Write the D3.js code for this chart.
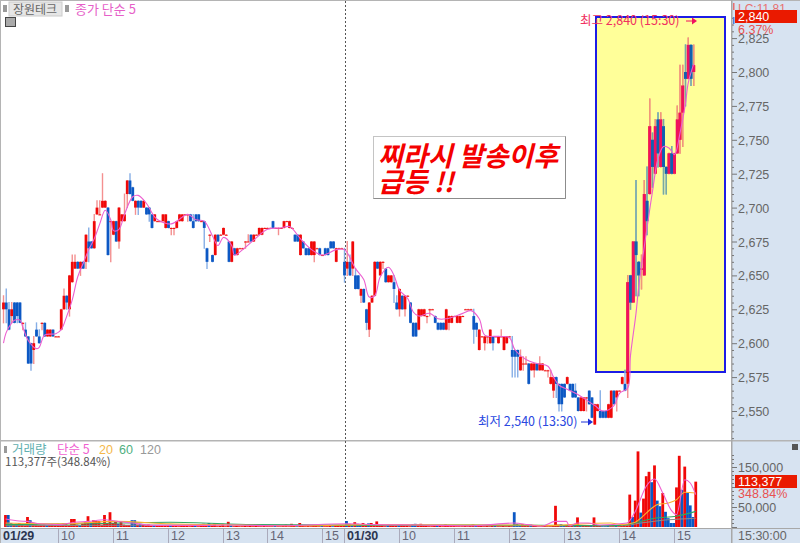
<!DOCTYPE html>
<html>
<head>
  <meta charset="utf-8">
  <title>장원테크</title>
  <script src="https://d3js.org/d3.v7.min.js"></script>
  <style>
    html, body { margin: 0; padding: 0; background: #fff; overflow: hidden; }
    text { font-family: "Liberation Sans", sans-serif; font-size: 12px; }
    .kr { font-family: "Noto Sans CJK KR", sans-serif; }
  </style>
</head>
<body>
<script>
// 3 minute bars, two sessions
var opens = [
  2625,2630,2625,2620,2630,2630,2630,2615,2610,2605,
  2600,2595,2610,2605,2615,2615,2605,2605,2610,2605,
  2605,2610,2625,2635,2625,2645,2655,2660,2655,2660,
  2660,2675,2675,2670,2695,2695,2700,2700,2700,2690,
  2680,2690,2675,2690,2690,2710,2720,2715,2700,2705,
  2705,2700,2700,2700,2695,2690,2690,2690,2690,2685,
  2690,2685,2685,2685,2690,2690,2695,2695,2695,2690,
  2695,2695,2690,2690,2670,2680,2665,2665,2680,2680,
  2680,2680,2675,2660,2670,2665,2670,2670,2675,2675,
  2680,2675,2680,2680,2680,2685,2685,2685,2690,2685,
  2685,2685,2685,2690,2685,2685,2680,2680,2665,2675,
  2670,2670,2665,2665,2670,2670,2665,2670,2670,2675,
  2675,2660,2670,2670,
  2660,2655,2660,2655,2650,2650,2635,2640,2625,2610,
  2630,2635,2660,2650,2660,2655,2645,2645,2645,2630,
  2625,2635,2625,2635,2630,2615,2615,2610,2620,2620,
  2620,2625,2625,2620,2615,2615,2615,2610,2615,2615,
  2620,2615,2615,2620,2625,2625,2625,2620,2615,2595,
  2605,2600,2605,2600,2605,2605,2600,2605,2595,2600,
  2605,2595,2595,2595,2580,2585,2585,2585,2580,2580,
  2585,2580,2580,2580,2580,2570,2565,2575,2570,2570,
  2570,2570,2570,2570,2565,2560,2550,2550,2560,2565,
  2560,2540,2550,2550,2550,2550,2545,2545,2565,2560,
  2565,2570,2570,2570,2650,2630,2675,2660,2655,2650,
  2705,2710,2750,2725,2765,2730,2760,2730,2725,2740,
  2725,2740,2750,2770,2800,2795,2820,2800
];
var closes = [
  2630,2625,2610,2625,2615,2620,2615,2615,2605,2585,
  2585,2600,2605,2600,2615,2605,2610,2610,2605,2605,
  2605,2625,2635,2630,2650,2660,2660,2655,2660,2655,
  2680,2670,2670,2690,2700,2695,2705,2705,2665,2690,
  2690,2675,2700,2695,2695,2720,2710,2705,2705,2700,
  2700,2705,2695,2695,2685,2695,2690,2690,2695,2695,
  2685,2685,2685,2690,2695,2695,2695,2695,2690,2685,
  2690,2690,2690,2685,2660,2680,2660,2680,2675,2680,
  2685,2680,2660,2675,2665,2670,2670,2670,2675,2675,
  2675,2680,2680,2685,2685,2685,2685,2685,2685,2685,
  2685,2685,2690,2690,2690,2685,2675,2675,2680,2670,
  2665,2665,2675,2675,2670,2665,2665,2665,2665,2670,
  2670,2670,2670,2670,
  2650,2660,2650,2675,2640,2640,2640,2630,2615,2630,
  2635,2660,2655,2660,2660,2645,2650,2650,2640,2625,
  2640,2625,2635,2635,2615,2605,2605,2625,2625,2625,
  2620,2625,2625,2615,2610,2610,2610,2625,2620,2620,
  2620,2620,2620,2620,2625,2625,2625,2610,2610,2610,
  2605,2605,2605,2610,2600,2605,2605,2605,2605,2605,
  2605,2590,2590,2590,2590,2585,2585,2570,2585,2585,
  2580,2585,2585,2580,2580,2575,2575,2570,2555,2555,
  2560,2575,2565,2560,2560,2550,2560,2560,2560,2555,
  2545,2555,2555,2545,2545,2545,2555,2565,2555,2565,
  2565,2575,2565,2645,2630,2675,2665,2650,2655,2710,
  2690,2760,2730,2760,2740,2765,2730,2725,2740,2725,
  2740,2765,2770,2790,2795,2820,2795,2805
];
var highs = [
  2635,2640,2630,2630,2630,2630,2630,2615,2615,2605,
  2600,2605,2615,2610,2615,2615,2610,2610,2610,2605,
  2605,2625,2640,2635,2650,2665,2665,2660,2660,2660,
  2680,2685,2675,2695,2705,2705,2725,2705,2700,2690,
  2690,2690,2700,2695,2710,2720,2725,2715,2705,2705,
  2705,2705,2700,2700,2695,2695,2690,2690,2695,2695,
  2690,2685,2685,2690,2695,2695,2695,2695,2695,2695,
  2695,2695,2690,2690,2670,2680,2665,2680,2680,2680,
  2685,2680,2675,2675,2670,2670,2670,2670,2675,2680,
  2680,2680,2680,2685,2685,2685,2685,2685,2690,2685,
  2685,2685,2690,2690,2690,2685,2680,2680,2680,2675,
  2670,2670,2675,2675,2670,2670,2665,2670,2670,2675,
  2675,2670,2670,2670,
  2670,2675,2665,2675,2655,2650,2640,2640,2625,2630,
  2635,2660,2660,2660,2660,2655,2650,2650,2650,2635,
  2640,2635,2635,2635,2630,2615,2615,2625,2625,2625,
  2620,2625,2625,2620,2615,2615,2615,2625,2620,2620,
  2620,2620,2620,2620,2625,2625,2625,2625,2615,2610,
  2605,2605,2605,2610,2605,2605,2605,2610,2605,2605,
  2605,2605,2595,2595,2595,2590,2590,2585,2585,2585,
  2585,2590,2585,2580,2580,2580,2575,2575,2570,2570,
  2570,2575,2570,2570,2570,2560,2560,2560,2560,2565,
  2560,2555,2555,2565,2550,2550,2555,2565,2565,2565,
  2565,2575,2580,2650,2650,2675,2720,2660,2665,2720,
  2730,2780,2755,2765,2770,2770,2765,2730,2740,2745,
  2740,2775,2805,2805,2820,2825,2820,2820
];
var lows = [
  2615,2615,2610,2615,2615,2615,2615,2610,2605,2585,
  2580,2585,2605,2600,2610,2605,2605,2605,2605,2605,
  2605,2610,2625,2625,2620,2645,2655,2655,2650,2655,
  2655,2660,2670,2670,2695,2695,2700,2700,2665,2660,
  2680,2675,2670,2690,2690,2700,2710,2705,2695,2695,
  2700,2700,2695,2690,2685,2690,2690,2690,2690,2685,
  2685,2680,2680,2685,2690,2690,2695,2690,2690,2685,
  2690,2690,2690,2670,2655,2675,2660,2665,2675,2680,
  2680,2680,2660,2660,2665,2665,2670,2670,2670,2675,
  2675,2675,2680,2680,2680,2685,2685,2685,2685,2685,
  2680,2685,2685,2690,2685,2685,2675,2675,2665,2670,
  2665,2665,2665,2660,2670,2665,2665,2665,2665,2670,
  2670,2660,2670,2670,
  2645,2650,2650,2650,2640,2640,2630,2630,2610,2605,
  2630,2635,2655,2650,2655,2645,2645,2645,2630,2625,
  2620,2625,2620,2635,2615,2605,2605,2610,2620,2620,
  2615,2620,2625,2615,2610,2610,2610,2610,2610,2615,
  2620,2615,2615,2620,2625,2625,2625,2600,2605,2595,
  2605,2595,2600,2600,2595,2605,2600,2605,2595,2600,
  2605,2575,2575,2575,2580,2580,2585,2570,2580,2575,
  2580,2580,2580,2580,2575,2570,2560,2560,2550,2550,
  2560,2570,2565,2560,2560,2550,2550,2550,2550,2555,
  2545,2540,2550,2545,2545,2545,2545,2545,2555,2550,
  2565,2570,2565,2560,2625,2630,2635,2635,2640,2650,
  2680,2710,2715,2725,2730,2730,2710,2710,2725,2725,
  2725,2740,2740,2745,2775,2795,2790,2790
];
var ma5Bars = [
  0,1,3,4,6,7,9,12,13,15,19,21,23,25,27,29,31,33,35,37,39,40,42,44,47,49,52,55,57,61,63,67,70,
  73,76,78,80,83,84,87,91,96,101,104,108,112,116,121,124,
  128,131,133,135,137,140,142,144,147,149,151,155,158,161,167,170,173,175,180,184,186,
  190,194,198,200,202,205,209,212,215,218,222,224,227,
  228,230,231,233,234,236,238,240,242,244,246,248,249,251
];
var ma5Values = [
  2600,2608,2615,2617,2617,2612,2602,2596,2597,2606,2607,2610,2620,2632,2649,2659,2669,2677,2688,2698,2691,2683,2684,2695,2708,2709,2703,2693,2690,2688,2690,2695,2691,
  2690,2679,2672,2678,2672,2665,2669,2676,2684,2685,2686,2677,2669,2665,2669,2669,
  2655,2647,2634,2635,2649,2656,2650,2639,2633,2623,2620,2622,2618,2618,2622,2624,2618,2606,2605,2604,2595,
  2588,2585,2583,2575,2569,2566,2562,2558,2554,2550,2554,2563,2567,
  2591,2622,2642,2671,2685,2712,2736,2745,2744,2739,2755,2777,2792,2806
];

var volumes = [
  30,30,10,5,8,10,6,4,25,17,
  8,6,4,5,6,4,5,7,4,8,
  6,9,7,5,20,20,6,5,8,12,
  27,12,17,15,15,6,30,10,37,10,
  15,8,14,6,5,5,17,17,6,8,
  5,4,6,3,4,5,3,5,4,3,
  3,5,3,2,3,4,3,2,3,4,
  2,3,8,3,10,4,9,2,3,8,
  2,13,4,2,3,2,2,3,2,3,
  2,3,2,2,3,2,2,2,3,2,
  2,3,6,2,8,3,2,10,3,2,
  3,2,4,3,2,3,2,2,3,2,
  4,3,5,3,
  15,8,6,12,8,6,10,7,9,10,
  5,14,3,6,2,6,5,4,3,5,
  6,4,5,2,7,8,6,8,4,3,
  2,2,3,4,3,2,6,4,3,3,
  2,2,2,3,2,5,6,3,3,4,
  2,3,2,3,4,2,2,3,2,4,
  2,37,8,6,7,4,3,6,3,3,
  2,3,3,2,2,4,53,6,7,4,
  5,5,4,4,24,4,5,4,3,5,
  24,4,3,2,2,3,2,2,3,2,3,5,6,
  81,25,66,189,36,71,127,138,112,154,66,52,85,38,22,10,10,99,178,93,151,85,54,25,113.377
].map(function(d) { return d * 1000; });
var blueVolumeBars = [1,2,4,9,15,27,31,41,46,47,49,54,60,69,74,82,98,106,115,119,124,126,128,129,132,139,143,148,149,157,171,178,185,186,187,191,202,203,207,209,213,217,218,219,222,
  228,231,235,237,238,240,241,242,243,246,248,249,250];

var volMa5Bars = [0,5,8,12,20,25,30,36,40,46,55,70,80,100,124,135,150,170,185,190,195,200,204,205,208,212,216,226,229,233,236,239,242,244,247,249,251];
var volMa5Values = [20,15,14,8,6,12,14,18,15,10,4,4,5,3,8,6,5,3,10,6,2,14,14,3,10,10,5,10,39,102,120,85,43,31,118,110,81];
var volMa20Bars = [0,20,40,60,85,110,130,160,190,195,220,224,229,231,235,237,241,244,247,251];
var volMa20Values = [10,8,14,8,5,3,6,5,5,3,10,6,12,22,47,56,60,68,87,85];
var volMa60Bars = [0,30,60,90,124,170,218,226,231,236,244,251];
var volMa60Values = [6,8,12,6,4,5,3,6,14,22,27,39];
var volMa120Bars = [0,60,124,200,224,231,241,251];
var volMa120Values = [3,5,5,3,3,10,18,22];

var hourBars = [20,40,60,80,96,116,124,144,164,184,204,224,244];
var hourLabels = ["10","11","12","13","14","15","01/30","10","11","12","13","14","15"];

var width = 800, height = 543;
var paneRight = 731, axisTop = 528, splitY = 440;

var svg = d3.select("body").append("svg")
  .attr("width", width)
  .attr("height", height)
  .style("display", "block");

var x = d3.scaleLinear().domain([0, 251]).range([3.5, 693.75]);
var y = d3.scaleLinear().domain([2550, 2800]).range([411, 72]);
var yVol = d3.scaleLinear().domain([50000, 150000]).range([507, 467]);

// panels
svg.append("rect").attr("width", width).attr("height", height).attr("fill", "#fff");
svg.append("rect").attr("x", paneRight).attr("y", 0).attr("width", width - paneRight).attr("height", height).attr("fill", "#d7e3f1");
svg.append("rect").attr("x", 0).attr("y", axisTop).attr("width", width).attr("height", height - axisTop).attr("fill", "#d7e3f1");
svg.append("rect").attr("x", 0).attr("y", 0).attr("width", width).attr("height", 1).attr("fill", "#b4b4b4");
svg.append("rect").attr("x", 0).attr("y", 0).attr("width", 1).attr("height", height).attr("fill", "#b4b4b4");
svg.append("rect").attr("x", 0).attr("y", splitY).attr("width", width).attr("height", 1.5).attr("fill", "#b4b4b4");
svg.append("rect").attr("x", 0).attr("y", axisTop).attr("width", width).attr("height", 1).attr("fill", "#a8a8a8");
svg.append("rect").attr("x", paneRight).attr("y", 0).attr("width", 1.5).attr("height", height).attr("fill", "#a8a8a8");

// highlight box behind the bars
var box = {x: 596, y: 17, w: 129, h: 355};
svg.append("rect")
  .attr("x", box.x).attr("y", box.y).attr("width", box.w).attr("height", box.h)
  .attr("fill", "#ffff99").attr("stroke", "#1c1ce6").attr("stroke-width", 2);

svg.append("clipPath").attr("id", "inBox").append("rect")
  .attr("x", box.x).attr("y", box.y).attr("width", box.w).attr("height", box.h);

// session divider
svg.append("line")
  .attr("x1", 345.5).attr("x2", 345.5).attr("y1", 1).attr("y2", axisTop)
  .attr("stroke", "#555").attr("stroke-dasharray", "2,2");

function drawCandles(g, colors) {
  g.selectAll("line.wick").data(opens).join("line")
    .attr("class", "wick")
    .attr("x1", function(d, i) { return x(i); })
    .attr("x2", function(d, i) { return x(i); })
    .attr("y1", function(d, i) { return y(highs[i]) - 0.5; })
    .attr("y2", function(d, i) { return y(lows[i]) + 0.5; })
    .attr("stroke", function(d, i) { return closes[i] >= d ? colors.upWick : colors.downWick; })
    .attr("stroke-width", 1.4);
  g.selectAll("rect.body").data(opens).join("rect")
    .attr("class", "body")
    .attr("x", function(d, i) { return x(i) - 1.4; })
    .attr("width", 2.8)
    .attr("y", function(d, i) { return y(Math.max(d, closes[i])); })
    .attr("height", function(d, i) { return Math.max(1, Math.abs(y(d) - y(closes[i]))); })
    .attr("fill", function(d, i) { return closes[i] >= d ? colors.up : colors.down; });
}

drawCandles(svg.append("g"), {up: "#f00808", down: "#0c58c4", upWick: "#f49090", downWick: "#86aee6"});
drawCandles(svg.append("g").attr("clip-path", "url(#inBox)"), {up: "#f01060", down: "#1060b0", upWick: "#f09878", downWick: "#78aaa0"});

// moving average on price
var priceLine = d3.line()
  .x(function(d) { return x(d); })
  .y(function(d, i) { return y(ma5Values[i]); })
  .curve(d3.curveCatmullRom);
svg.append("path").attr("d", priceLine(ma5Bars))
  .attr("fill", "none").attr("stroke", "#ec5fd0").attr("stroke-width", 1.1);

// volume bars
var volGroup = svg.append("g").attr("transform", "translate(2,0)");
volGroup.selectAll("rect").data(volumes).join("rect")
  .attr("x", function(d, i) { return x(i) - 1.4; })
  .attr("width", 2.8)
  .attr("y", function(d) { return yVol(d); })
  .attr("height", function(d) { return yVol(0) - yVol(d); })
  .attr("fill", function(d, i) { return blueVolumeBars.indexOf(i) >= 0 ? "#0c58c4" : "#f00808"; });

function volLine(bars, values, color) {
  var line = d3.line()
    .x(function(d) { return x(d); })
    .y(function(d, i) { return yVol(values[i] * 1000); })
    .curve(d3.curveMonotoneX);
  volGroup.append("path").attr("d", line(bars))
    .attr("fill", "none").attr("stroke", color).attr("stroke-width", 1.1);
}
volLine(volMa120Bars, volMa120Values, "#8c8c8c");
volLine(volMa60Bars, volMa60Values, "#30a860");
volLine(volMa20Bars, volMa20Values, "#f9b030");
volLine(volMa5Bars, volMa5Values, "#f060d0");

// price axis
var priceAxis = d3.axisRight(y)
  .tickValues(d3.range(2530, 2845, 5))
  .tickSize(5)
  .tickPadding(1)
  .tickFormat(function(d) { return d % 25 === 0 && d >= 2550 && d <= 2825 ? d3.format(",")(d) : ""; });
var priceAxisG = svg.append("g").attr("transform", "translate(" + (paneRight + 1) + ",0)").call(priceAxis);
priceAxisG.select(".domain").remove();
priceAxisG.selectAll("line")
  .attr("stroke", "#777")
  .attr("x2", function(d) { return d % 25 === 0 ? 5 : 2; });
priceAxisG.selectAll("text").attr("fill", "#666").style("font-size", "12.5px").attr("dy", "0.36em");

// volume axis
var volAxis = d3.axisRight(yVol)
  .tickValues(d3.range(0, 190000, 10000))
  .tickSize(5)
  .tickPadding(1)
  .tickFormat(function(d) { return d === 150000 || d === 50000 ? d3.format(",")(d) : ""; });
var volAxisG = svg.append("g").attr("transform", "translate(" + (paneRight + 1) + ",0)").call(volAxis);
volAxisG.select(".domain").remove();
volAxisG.selectAll("line")
  .attr("stroke", "#777")
  .attr("x2", function(d) { return d % 50000 === 0 ? 5 : 2; });
volAxisG.selectAll("text").attr("fill", "#666").style("font-size", "12.5px").attr("dy", "0.36em");

// time axis
var timeAxis = d3.axisBottom(x).tickValues(hourBars).tickSize(0).tickPadding(0)
  .tickFormat(function(d, i) { return hourLabels[i]; });
var timeAxisG = svg.append("g").attr("transform", "translate(0," + axisTop + ")").call(timeAxis);
timeAxisG.select(".domain").remove();
timeAxisG.selectAll("text")
  .attr("text-anchor", "start").attr("x", 2).attr("y", 11.5).attr("dy", 0)
  .attr("fill", function(d, i) { return i === 6 ? "#2c3550" : "#667"; })
  .style("font-weight", function(d, i) { return i === 6 ? "bold" : "normal"; })
  .style("font-size", "12.5px");
timeAxisG.selectAll(".tick").append("line")
  .attr("x1", -0.5).attr("x2", -0.5).attr("y1", 1).attr("y2", 15).attr("stroke", "#aab");
svg.append("text").attr("x", 3).attr("y", 539.5).attr("fill", "#2c3550").style("font-weight", "bold").style("font-size", "12.5px").text("01/29");

function label(px, py, txt, color, size, kr) {
  return svg.append("text")
    .attr("class", kr ? "kr" : null)
    .attr("x", px).attr("y", py)
    .attr("fill", color)
    .style("font-size", (size || 12) + "px")
    .text(txt);
}

// price tag and header of the axis
label(738, 13, "LC:11.81", "#e87070", 12);
svg.append("rect").attr("x", 733).attr("y", 3).attr("width", 1.5).attr("height", 7).attr("fill", "#e87070");
svg.append("rect").attr("x", 733).attr("y", 17).attr("width", 1.5).attr("height", 7).attr("fill", "#5080e0");
svg.append("rect").attr("x", 735).attr("y", 10).attr("width", 62).attr("height", 13).attr("fill", "#ea1a00");
label(738, 21, "2,840", "#fff", 12.5);
label(738, 33.5, "6.37%", "#e85050", 12.5);

svg.append("rect").attr("x", 735).attr("y", 475).attr("width", 62).attr("height", 13).attr("fill", "#ea1a00");
label(738, 486, "113,377", "#fff", 12.5);
label(738, 498, "348.84%", "#e85050", 12.5);
label(738, 539.5, "15:30:00", "#666", 12.5);
svg.append("rect").attr("x", 792).attr("y", 444).attr("width", 6).attr("height", 6).attr("fill", "#555");

// top left legend
svg.append("rect").attr("x", 3).attr("y", 5).attr("width", 4).attr("height", 7).attr("fill", "#999");
svg.append("rect").attr("x", 9).attr("y", 2).attr("width", 53).attr("height", 14).attr("fill", "#e6e6e6").attr("stroke", "#ccc");
label(13, 13.5, "장원테크", "#666", 12, true);
svg.append("rect").attr("x", 65).attr("y", 5).attr("width", 4).attr("height", 7).attr("fill", "#999");
label(75, 14, "종가 단순 5", "#e65fc8", 13, true);
svg.append("rect").attr("x", 5.5).attr("y", 17.5).attr("width", 10).attr("height", 9).attr("fill", "#aaa").attr("stroke", "#444");

// volume legend
svg.append("rect").attr("x", 4).attr("y", 446).attr("width", 3).attr("height", 7).attr("fill", "#999");
label(12, 454, "거래량", "#5fb0b0", 12.5, true);
label(57, 454, "단순 5", "#f060d0", 12.5, true);
label(99, 454, "20", "#f5b84a", 12.5);
label(119, 454, "60", "#50b080", 12.5);
label(140, 454, "120", "#999", 12.5);
label(5, 466, "113,377주(348.84%)", "#555", 11.5, true);

// annotation
svg.append("rect").attr("x", 373.5).attr("y", 136.5).attr("width", 192).attr("height", 62)
  .attr("fill", "#fff").attr("stroke", "#c4c4c4");
svg.append("path").attr("d", "M565.5,136.5V198.5H373.5").attr("fill", "none").attr("stroke", "#8c8c8c");
svg.append("text").attr("class", "kr").attr("x", 378).attr("y", 166)
  .attr("fill", "#f40000").style("font-size", "27px").style("font-weight", "bold").style("font-style", "italic")
  .text("찌라시 발송이후");
svg.append("text").attr("class", "kr").attr("x", 378).attr("y", 192)
  .attr("fill", "#f40000").style("font-size", "27px").style("font-weight", "bold").style("font-style", "italic")
  .text("급등 !!");

// high / low notes
function arrow(x1, x2, py, color) {
  svg.append("line").attr("x1", x1).attr("x2", x2).attr("y1", py).attr("y2", py).attr("stroke", color);
  svg.append("path").attr("d", "M" + (x2 + 2) + "," + py + "L" + (x2 - 3) + "," + (py - 3.5) + "L" + (x2 - 3) + "," + (py + 3.5) + "Z").attr("fill", color);
}
label(580, 25, "최고 2,840 (15:30)", "#f03060", 12.5, true);
arrow(686, 695, 21, "#f01060");
label(478, 426, "최저 2,540 (13:30)", "#2a48e0", 12.5, true);
arrow(581, 591, 422, "#1c30d8");
</script>
</body>
</html>
